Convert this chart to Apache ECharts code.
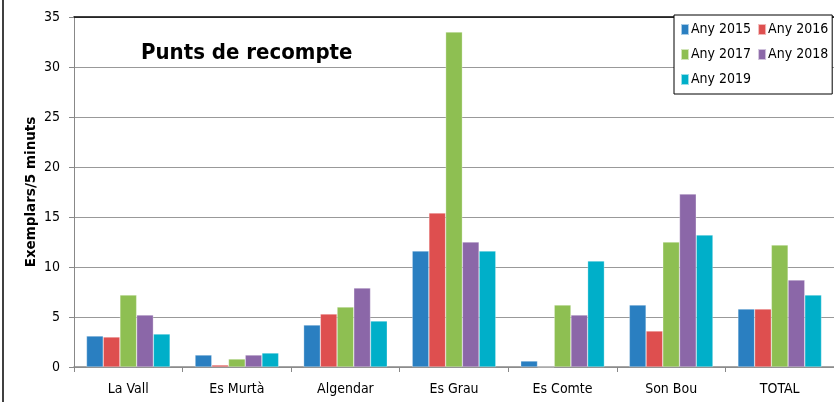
<!DOCTYPE html>
<html><head><meta charset="utf-8">
<style>html,body{margin:0;padding:0;background:#fff}#c{width:834px;height:402px}</style>
<script src="https://cdn.jsdelivr.net/npm/echarts@6/dist/echarts.min.js"></script>
</head><body><div id="c"></div>
<script>
const categories = ['La Vall', 'Es Murtà', 'Algendar', 'Es Grau', 'Es Comte', 'Son Bou', 'TOTAL'];
const seriesNames = ['Any 2015', 'Any 2016', 'Any 2017', 'Any 2018', 'Any 2019'];
const any2015 = [3.1, 1.2, 4.2, 11.6, 0.6, 6.2, 5.8];
const any2016 = [3.0, 0.2, 5.3, 15.4, 0, 3.6, 5.8];
const any2017 = [7.2, 0.8, 6.0, 33.5, 6.2, 12.5, 12.2];
const any2018 = [5.2, 1.2, 7.9, 12.5, 5.2, 17.3, 8.7];
const any2019 = [3.3, 1.4, 4.6, 11.6, 10.6, 13.2, 7.2];
const yTicks = [0, 5, 10, 15, 20, 25, 30, 35];
const colors = ['#2A7FC1', '#DE4F4F', '#8EBF52', '#8B67A8', '#00AFC9'];
const values = [any2015, any2016, any2017, any2018, any2019];
const FONT = "'Liberation Sans Narrow', 'DejaVu Sans Condensed', sans-serif";

const chart = echarts.init(document.getElementById('c'));
chart.setOption({
  animation: false,
  textStyle: { fontFamily: FONT },
  title: {
    text: 'Punts de recompte', left: 136, top: 37,
    textStyle: { fontFamily: FONT, fontSize: 22, fontWeight: 'bold', color: '#000' }
  },
  legend: {
    data: seriesNames, left: 674, top: 15, width: 175, orient: 'horizontal',
    backgroundColor: '#fff', borderColor: '#000', borderWidth: 1,
    padding: [5, 4, 5, 6], itemGap: 6, itemWidth: 8, itemHeight: 11, icon: 'rect',
    textStyle: { fontFamily: FONT, fontSize: 14, color: '#000', lineHeight: 19, padding: [0, 0, 0, -3] }
  },
  graphic: [{ type: 'line', shape: { x1: 3, y1: 0, x2: 3, y2: 402 }, style: { stroke: '#000', lineWidth: 1.5 } }],
  grid: { left: 74, right: -3, top: 17, bottom: 35 },
  xAxis: [{
    type: 'category', data: categories,
    axisLine: { lineStyle: { color: '#888', width: 1.5 } },
    axisTick: { show: true, length: 5, lineStyle: { color: '#888' } },
    axisLabel: { fontFamily: FONT, fontSize: 14, color: '#000', margin: 15 }
  }, {
    type: 'category', data: categories, position: 'top',
    axisLine: { lineStyle: { color: '#000', width: 1.5 } },
    axisTick: { show: false }, axisLabel: { show: false }
  }],
  yAxis: {
    type: 'value', min: 0, max: 35, interval: 5,
    name: 'Exemplars/5 minuts', nameLocation: 'middle', nameGap: 36, nameMoveOverlap: false,
    nameTextStyle: { fontFamily: 'DejaVu Sans', fontSize: 13.5, fontWeight: 'bold', color: '#000' },
    axisLine: { show: true, lineStyle: { color: '#888', width: 1 } },
    axisTick: { show: true, length: 5, lineStyle: { color: '#888' } },
    axisLabel: { fontFamily: FONT, fontSize: 14, color: '#000', margin: 14,
      formatter: v => yTicks.includes(v) ? String(v) : '' },
    splitLine: { lineStyle: { color: '#999', width: 1.2 } }
  },
  series: seriesNames.map((n, i) => ({
    name: n, type: 'bar', data: values[i], barGap: '0%', barCategoryGap: '23%',
    itemStyle: { color: colors[i], borderColor: 'rgba(255,255,255,0.6)', borderWidth: 0.5 }
  }))
});
</script></body></html>
